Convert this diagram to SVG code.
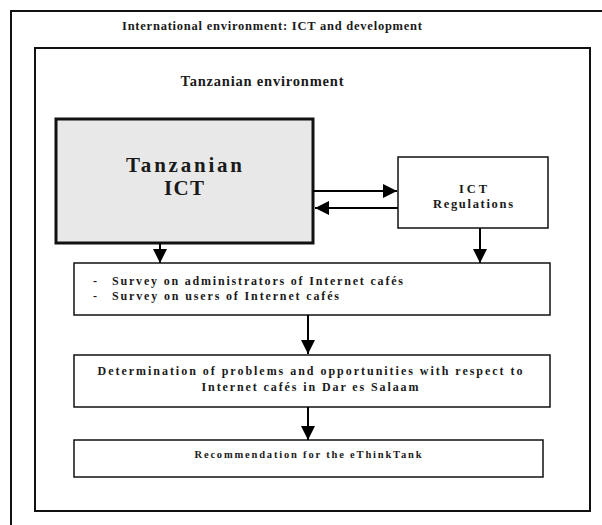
<svg xmlns="http://www.w3.org/2000/svg" width="602" height="525" viewBox="0 0 602 525">
  <style>
    text { font-family: "Liberation Serif", "DejaVu Serif", serif; font-weight: bold; fill: #1a1a1a; }
    .frame { fill: none; stroke: #111; stroke-width: 2; }
    .box { fill: #fff; stroke: #111; stroke-width: 1.5; }
    .main { fill: #e8e8e8; stroke: #111; stroke-width: 3; }
    .conn { stroke: #000; stroke-width: 2; fill: none; }
  </style>
  <defs>
    <marker id="arrow" viewBox="0 0 10 10" refX="10" refY="5" markerWidth="7" markerHeight="7" markerUnits="strokeWidth" orient="auto">
      <path d="M0,0 L10,5 L0,10 Z" fill="#000"/>
    </marker>
  </defs>
  <rect width="602" height="525" fill="#fff"/>

  <!-- outer and inner environment frames -->
  <g id="international">
    <rect class="frame" x="11" y="11" width="600" height="530"/>
    <text x="272" y="30" font-size="12.5" text-anchor="middle" textLength="300" lengthAdjust="spacing">International environment: ICT and development</text>
  </g>
  <g id="tanzanian-env">
    <rect class="frame" x="35" y="48" width="555" height="463"/>
    <text x="262" y="86" font-size="14.5" text-anchor="middle" textLength="163" lengthAdjust="spacing">Tanzanian environment</text>
  </g>

  <g id="tanzanian-ict">
    <rect class="main" x="56" y="119" width="257" height="124"/>
    <text x="184" y="172" font-size="21" text-anchor="middle" textLength="116" lengthAdjust="spacing">Tanzanian</text>
    <text x="184" y="195" font-size="21" text-anchor="middle" textLength="40" lengthAdjust="spacing">ICT</text>
  </g>

  <g id="ict-regulations">
    <rect class="box" x="398" y="157" width="150" height="71"/>
    <text x="473" y="193" font-size="12.5" text-anchor="middle" textLength="28" lengthAdjust="spacing">ICT</text>
    <text x="473" y="208" font-size="12.5" text-anchor="middle" textLength="80" lengthAdjust="spacing">Regulations</text>
  </g>

  <g id="surveys">
    <rect class="box" x="74" y="263" width="476" height="52"/>
    <text x="93" y="285" font-size="12">-</text>
    <text x="112" y="285" font-size="12" textLength="291" lengthAdjust="spacing">Survey on administrators of Internet cafés</text>
    <text x="93" y="300" font-size="12">-</text>
    <text x="112" y="300" font-size="12" textLength="227" lengthAdjust="spacing">Survey on users of Internet cafés</text>
  </g>

  <g id="determination">
    <rect class="box" x="74" y="355" width="476" height="52"/>
    <text x="310" y="375" font-size="12" text-anchor="middle" textLength="425" lengthAdjust="spacing">Determination of problems and opportunities with respect to</text>
    <text x="310" y="391" font-size="12" text-anchor="middle" textLength="217" lengthAdjust="spacing">Internet cafés in Dar es Salaam</text>
  </g>

  <g id="recommendation">
    <rect class="box" x="74" y="440" width="469" height="37"/>
    <text x="308" y="458" font-size="10.5" text-anchor="middle" textLength="227" lengthAdjust="spacing">Recommendation for the eThinkTank</text>
  </g>

  <g id="connectors">
    <line class="conn" x1="313" y1="191" x2="397" y2="191" stroke-width="1.5" marker-end="url(#arrow)"/>
    <line class="conn" x1="398" y1="208" x2="315" y2="208" marker-end="url(#arrow)"/>
    <line class="conn" x1="160" y1="244" x2="160" y2="263" marker-end="url(#arrow)"/>
    <line class="conn" x1="480" y1="228" x2="480" y2="263" marker-end="url(#arrow)"/>
    <line class="conn" x1="308" y1="315" x2="308" y2="354" marker-end="url(#arrow)"/>
    <line class="conn" x1="308" y1="407" x2="308" y2="440" marker-end="url(#arrow)"/>
  </g>
</svg>
